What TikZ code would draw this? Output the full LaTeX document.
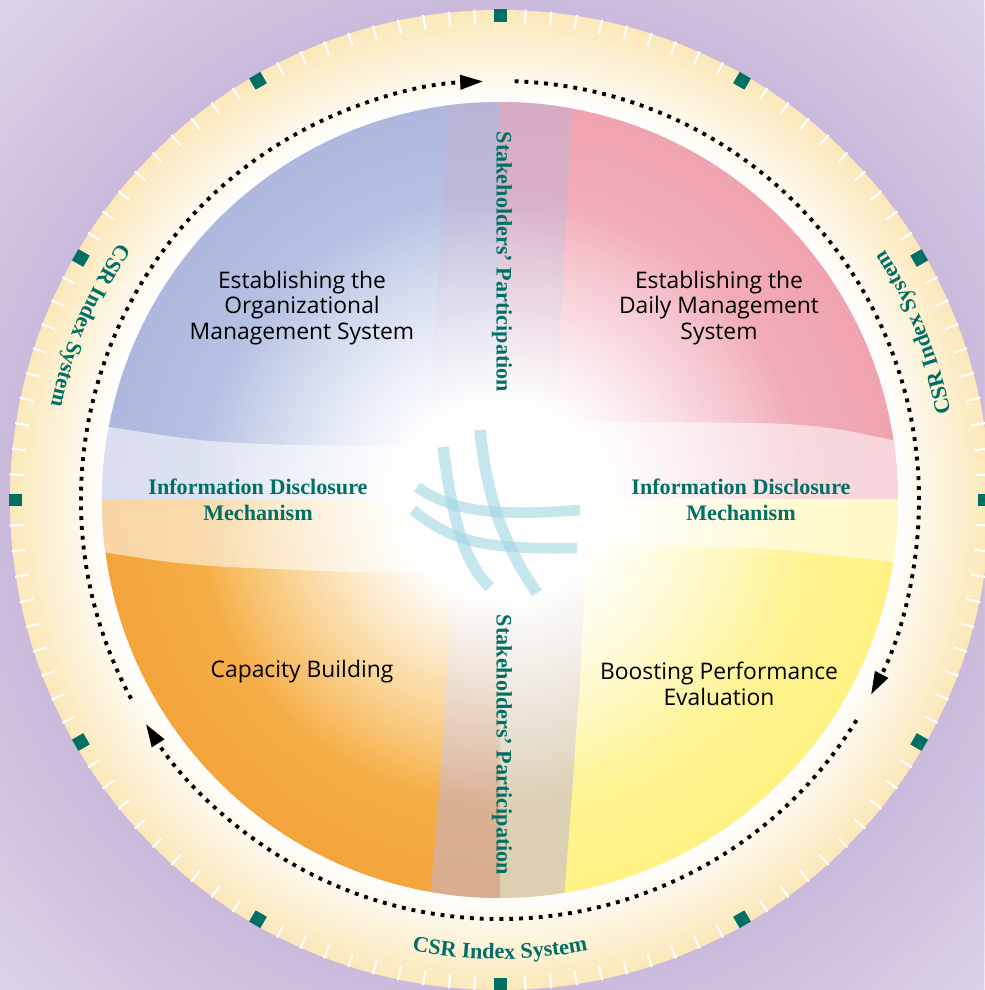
\documentclass[tikz,border=0pt]{standalone}
\usepackage{fontspec}
\setmainfont{Liberation Serif}
\newfontfamily\quadfont{Open Sans}
\usetikzlibrary{arrows.meta, decorations.text, fadings}

\definecolor{csrteal}{RGB}{0,112,100}
\definecolor{lavdark}{RGB}{202,186,220}
\definecolor{lavlight}{RGB}{222,213,235}
\definecolor{ringcream}{RGB}{252,232,186}
\definecolor{qblue}{RGB}{160,166,212}
\definecolor{qbluein}{RGB}{204,220,242}
\definecolor{qpink}{RGB}{236,146,158}
\definecolor{qpinkin}{RGB}{248,200,212}
\definecolor{qorange}{RGB}{240,144,38}
\definecolor{qorangein}{RGB}{251,206,104}
\definecolor{qyellow}{RGB}{255,238,100}
\definecolor{qyellowin}{RGB}{255,250,196}
\definecolor{bandtint}{RGB}{196,180,212}
\definecolor{globecyan}{RGB}{160,214,226}

% glow stops are scaled to the circumscribed square of the faded circle
\pgfdeclareradialshading{glowshade}{\pgfpointorigin}{color(0bp)=(transparent!0); color(6bp)=(transparent!0); color(19bp)=(transparent!100); color(50bp)=(transparent!100)}
\pgfdeclarefading{glow}{\pgfuseshading{glowshade}}

\begin{document}
\begin{tikzpicture}[x=0.02cm, y=0.02cm,
    tick/.style={white, line width=1.2pt},
    marker/.style={fill=csrteal, minimum size=0.26cm, inner sep=0pt},
    quadtext/.style={font=\quadfont\fontsize{13}{14.6}\selectfont, align=center, text=black},
    bandtext/.style={font=\fontsize{12.6}{14.8}\selectfont\bfseries, align=center, text=csrteal},
    dotarc/.style={line width=2.2pt, dash pattern=on 2.2pt off 3.4pt, -{Triangle[length=0.46cm, width=0.28cm]}},
    ringlabel/.style={decorate, decoration={text along path, text align=center, text color=csrteal,
        text={|\fontsize{12.6}{14}\selectfont\bfseries|#1}}}]
    \useasboundingbox (-500,-490) rectangle (484,500);

    % background and outer ring
    \begin{scope}
        \clip (-500,-490) rectangle (484,500);
        \fill[lavlight] (-500,-490) rectangle (484,500);
        \foreach \i [evaluate=\i as \p using \i*100/22] in {0,...,22}
            \fill[lavdark!\p!lavlight] (0,0) circle[radius=720-\i*10];
    \end{scope}
    \foreach \i [evaluate=\i as \p using 100-\i*100/23] in {0,...,23}
        \fill[ringcream!\p!white] (0,0) circle[radius=490-\i*4];
    \foreach \b in {0,30,...,330} {
        \foreach \s in {3,6,...,27}
            \draw[tick] (\b+\s:477) -- (\b+\s:491);
        \node[marker, rotate=\b] (mark\b) at (\b:484) {};
    }

    % the four fields
    \begin{scope}
        \clip (0,0) circle[radius=398];
        \begin{scope}
            \clip (0,0) rectangle (-400,400);
            \shade[inner color=qbluein, outer color=qblue] (0,0) circle[radius=590];
        \end{scope}
        \begin{scope}
            \clip (0,0) rectangle (400,400);
            \shade[inner color=qpinkin, outer color=qpink] (0,0) circle[radius=590];
        \end{scope}
        \begin{scope}
            \clip (0,0) rectangle (-400,-400);
            \shade[inner color=qorangein, outer color=qorange] (0,0) circle[radius=590];
        \end{scope}
        \begin{scope}
            \clip (0,0) rectangle (400,-400);
            \shade[inner color=qyellowin, outer color=qyellow] (0,0) circle[radius=590];
        \end{scope}
        \fill[bandtint, opacity=0.55]
            plot[smooth] coordinates {(-53,410) (-60,250) (-68,100) (-50,-80) (-58,-250) (-71,-410)}
            -- plot[smooth] coordinates {(63,-410) (75,-250) (83,-80) (60,100) (65,250) (73,410)} -- cycle;
        \fill[white, opacity=0.55]
            plot[smooth] coordinates {(-410,76) (-300,60) (-200,55) (-60,55) (60,76) (250,77) (330,72) (410,56)}
            -- plot[smooth] coordinates {(410,-64) (330,-55) (250,-48) (60,-47) (-60,-72) (-250,-68) (-330,-62) (-410,-50)} -- cycle;
        \fill[white, path fading=glow] (0,0) circle[radius=400];
    \end{scope}

    % globe in the middle
    \begin{scope}[scope fading=fade out, fit fading=false, fading transform={scale=2.2}]
        \draw[globecyan, draw opacity=0.6, line width=6.5pt] (-57,53) .. controls (-50,0) and (-40,-60) .. (-10,-87);
        \draw[globecyan, draw opacity=0.6, line width=6.5pt] (-20,70) .. controls (-14,10) and (0,-40) .. (37,-93);
        \draw[globecyan, draw opacity=0.6, line width=6pt] (-83,13) .. controls (-50,-10) and (-10,-17) .. (80,-10);
        \draw[globecyan, draw opacity=0.6, line width=6pt] (-87,-10) .. controls (-50,-40) and (-20,-50) .. (77,-48);
    \end{scope}

    % flow around the fields
    \draw[dotarc] (88:419) arc[start angle=88, end angle=-27.7, radius=419];
    \draw[dotarc] (-31.7:419) arc[start angle=-31.7, end angle=-147.7, radius=419];
    \draw[dotarc] (-151.7:419) arc[start angle=-151.7, end angle=-267.7, radius=419];

    \node[quadtext] (orgsys) at (-198,192) {Establishing the\\Organizational\\Management System};
    \node[quadtext] (dailysys) at (219,192) {Establishing the\\Daily Management\\System};
    \node[quadtext] (capacity) at (-198,-172) {Capacity Building};
    \node[quadtext] (boosting) at (219,-184) {Boosting Performance\\Evaluation};

    \node[bandtext] (infoleft) at (-242,0) {Information Disclosure\\Mechanism};
    \node[bandtext] (inforight) at (241,0) {Information Disclosure\\Mechanism};
    \node[bandtext, rotate=-90] (stakeup) at (2,238) {Stakeholders’ Participation};
    \node[bandtext, rotate=-90] (stakedown) at (2,-245) {Stakeholders’ Participation};

    \path[ringlabel={CSR Index System}] (137:459) arc[start angle=137, end angle=177, radius=459];
    \path[ringlabel={CSR Index System}] (2:459) arc[start angle=2, end angle=42, radius=459];
    \path[ringlabel={CSR Index System}] (250:459) arc[start angle=250, end angle=290, radius=459];
\end{tikzpicture}
\end{document}
